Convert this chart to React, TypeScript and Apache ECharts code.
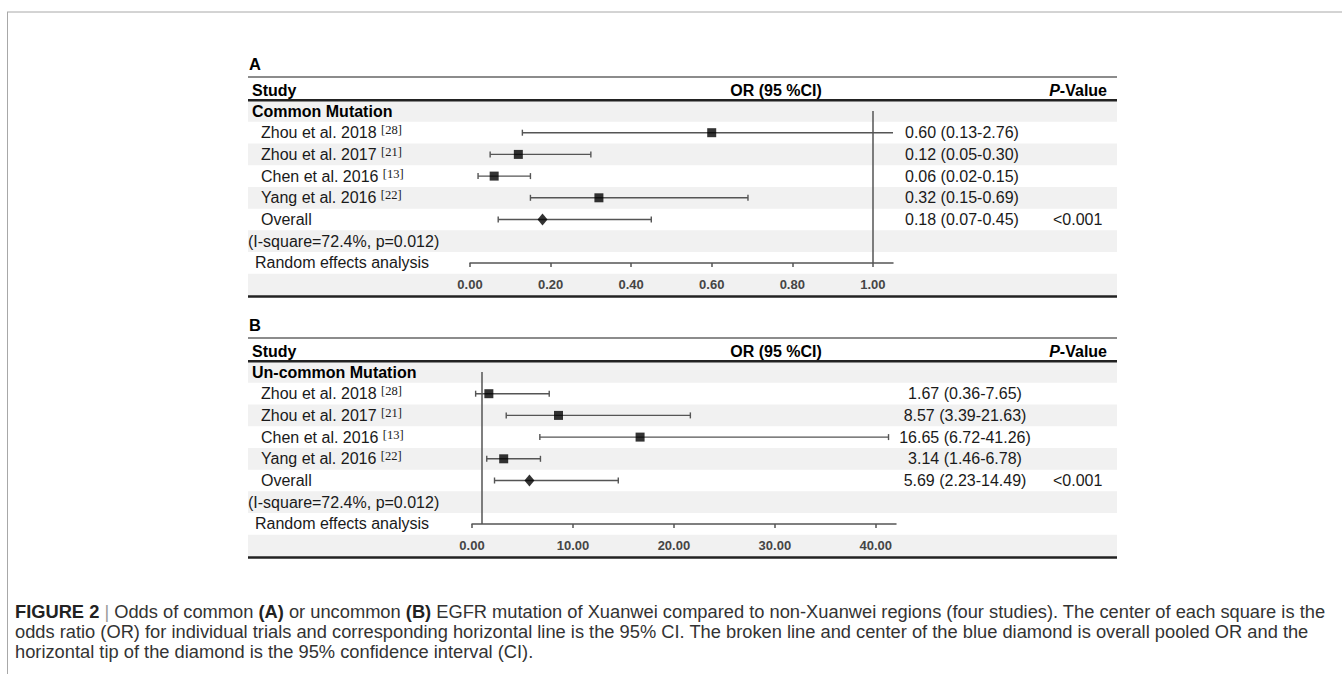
import React, { useEffect, useRef } from 'react';
import * as echarts from 'echarts';

// ---------- DATA ----------
const panelLetters = ['A', 'B'];
const groupTitles = ['Common Mutation', 'Un-common Mutation'];
const studies = ['Zhou et al. 2018', 'Zhou et al. 2017', 'Chen et al. 2016', 'Yang et al. 2016'];
const refs = ['[28]', '[21]', '[13]', '[22]'];

const orA = [0.6, 0.12, 0.06, 0.32];
const loA = [0.13, 0.05, 0.02, 0.15];
const hiA = [2.76, 0.3, 0.15, 0.69];
const overallA = { or: 0.18, lo: 0.07, hi: 0.45 };

const orB = [1.67, 8.57, 16.65, 3.14];
const loB = [0.36, 3.39, 6.72, 1.46];
const hiB = [7.65, 21.63, 41.26, 6.78];
const overallB = { or: 5.69, lo: 2.23, hi: 14.49 };

const pValues = ['<0.001', '<0.001'];
const heterogeneity = ['(I-square=72.4%, p=0.012)', '(I-square=72.4%, p=0.012)'];
const ticksA = [0, 0.2, 0.4, 0.6, 0.8, 1.0];
const ticksB = [0, 10, 20, 30, 40];

const captionLines = [
  '{b|FIGURE 2} {g||} Odds of common {b|(A)} or uncommon {b|(B)} EGFR mutation of Xuanwei compared to non-Xuanwei regions (four studies). The center of each square is the',
  'odds ratio (OR) for individual trials and corresponding horizontal line is the 95% CI. The broken line and center of the blue diamond is overall pooled OR and the',
  'horizontal tip of the diamond is the 95% confidence interval (CI).',
];

// ---------- LAYOUT ----------
const FONT = '"Liberation Sans", Arial, Helvetica, sans-serif';
const SERIF = '"Liberation Serif", "Times New Roman", serif';
const PANEL_OFFSET = [0, 261];
const TABLE_LEFT = 248;
const TABLE_RIGHT = 1117;
const ROW0 = 111;
const PITCH = 21.7;
const LINE_COLOR = '#555';
const CAP_SIZE = 18.3;

const fmtCI = (o: number, l: number, h: number) => `${o.toFixed(2)} (${l.toFixed(2)}-${h.toFixed(2)})`;

function buildPanel(p: number) {
  const off = PANEL_OFFSET[p];
  const or = p === 0 ? orA : orB;
  const lo = p === 0 ? loA : loB;
  const hi = p === 0 ? hiA : hiB;
  const ov = p === 0 ? overallA : overallB;
  const ticks = p === 0 ? ticksA : ticksB;
  const rowY = (i: number) => ROW0 + off + i * PITCH;

  const grid = p === 0
    ? { left: 470, top: ROW0 + off, width: 423, height: PITCH * 7 }
    : { left: 472, top: ROW0 + off, width: 424, height: PITCH * 7 };

  const xAxis = {
    gridIndex: p,
    type: 'value',
    min: 0,
    max: p === 0 ? 1.05 : 42,
    position: 'bottom',
    axisLine: { show: true, onZero: false, lineStyle: { color: LINE_COLOR, width: 1.5 } },
    axisTick: { show: true, inside: false, length: 4, customValues: ticks, lineStyle: { color: LINE_COLOR, width: 1.5 } },
    axisLabel: {
      show: true,
      customValues: ticks,
      margin: 15,
      formatter: (v: number) => v.toFixed(2),
      fontFamily: FONT,
      fontWeight: 'bold',
      fontSize: 13,
      color: '#454545',
    },
    splitLine: { show: false },
  };
  const yAxis = { gridIndex: p, type: 'value', min: 0, max: 7, inverse: true, show: false };

  const ciData = lo.map((l, i) => [l, hi[i], i + 1]).concat([[ov.lo, ov.hi, 5]]);

  const series: any[] = [
    {
      type: 'custom',
      xAxisIndex: p,
      yAxisIndex: p,
      data: ciData,
      renderItem: (params: any, api: any) => {
        const a = api.coord([api.value(0), api.value(2)]);
        const b = api.coord([api.value(1), api.value(2)]);
        const cs = params.coordSys;
        const xmin = cs.x;
        const xmax = cs.x + cs.width;
        const y = a[1];
        const x1 = Math.max(a[0], xmin);
        const x2 = Math.min(b[0], xmax);
        const st = { stroke: LINE_COLOR, lineWidth: 1.4 };
        const children: any[] = [{ type: 'line', shape: { x1, y1: y, x2, y2: y }, style: st }];
        if (a[0] >= xmin) children.push({ type: 'line', shape: { x1: a[0], y1: y - 3, x2: a[0], y2: y + 3 }, style: st });
        if (b[0] <= xmax) children.push({ type: 'line', shape: { x1: b[0], y1: y - 3, x2: b[0], y2: y + 3 }, style: st });
        return { type: 'group', children };
      },
      z: 3,
    },
    {
      type: 'scatter',
      xAxisIndex: p,
      yAxisIndex: p,
      symbol: 'rect',
      symbolSize: 9,
      itemStyle: { color: '#000' },
      data: or.map((v, i) => [v, i + 1]),
      z: 4,
      markLine: {
        silent: true,
        symbol: ['none', 'none'],
        label: { show: false },
        lineStyle: { color: LINE_COLOR, width: 1.5, type: 'solid' },
        data: [{ xAxis: 1 }],
      },
    },
    {
      type: 'scatter',
      xAxisIndex: p,
      yAxisIndex: p,
      symbol: 'diamond',
      symbolSize: [10, 12],
      itemStyle: { color: '#000' },
      data: [[ov.or, 5]],
      z: 4,
    },
  ];

  const g: any[] = [];
  for (let i = 0; i <= 8; i += 2) {
    g.push({
      type: 'rect',
      z: 0,
      shape: { x: TABLE_LEFT, y: rowY(i) - PITCH / 2, width: TABLE_RIGHT - TABLE_LEFT, height: PITCH },
      style: { fill: '#f1f1f1' },
    });
  }
  g.push({ type: 'line', z: 10, shape: { x1: TABLE_LEFT, y1: 77 + off, x2: TABLE_RIGHT, y2: 77 + off }, style: { stroke: '#666', lineWidth: 1.5 } });
  g.push({ type: 'line', z: 10, shape: { x1: TABLE_LEFT, y1: rowY(0) - PITCH / 2, x2: TABLE_RIGHT, y2: rowY(0) - PITCH / 2 }, style: { stroke: '#222', lineWidth: 2.5 } });
  g.push({ type: 'line', z: 10, shape: { x1: TABLE_LEFT, y1: rowY(8) + PITCH / 2 + 1, x2: TABLE_RIGHT, y2: rowY(8) + PITCH / 2 + 1 }, style: { stroke: '#222', lineWidth: 2.5 } });

  const txt = (x: number, y: number, text: string, extra: any = {}) => ({
    type: 'text',
    z: 10,
    x,
    y,
    style: {
      text,
      fill: '#1a1a1a',
      fontFamily: FONT,
      fontSize: 16,
      textAlign: 'left',
      textVerticalAlign: 'middle',
      ...extra,
    },
  });

  g.push(txt(TABLE_LEFT + 1, 64 + off, panelLetters[p], { fontWeight: 'bold', fontSize: 16.5, fill: '#000' }));
  g.push(txt(252, 90 + off, 'Study', { fontWeight: 'bold', fill: '#000' }));
  g.push(txt(776, 90 + off, 'OR (95 %CI)', { fontWeight: 'bold', fill: '#000', textAlign: 'center' }));
  g.push(txt(1107, 90 + off, '{i|P}{n|-Value}', {
    textAlign: 'right',
    rich: {
      i: { fontFamily: FONT, fontSize: 16, fontWeight: 'bold', fontStyle: 'italic', fill: '#000' },
      n: { fontFamily: FONT, fontSize: 16, fontWeight: 'bold', fill: '#000' },
    },
  }));

  g.push(txt(252, rowY(0), groupTitles[p], { fontWeight: 'bold', fill: '#000' }));
  const rich = {
    n: { fontFamily: FONT, fontSize: 16, lineHeight: 18, fill: '#1a1a1a', verticalAlign: 'middle' },
    s: { fontFamily: SERIF, fontSize: 12.5, lineHeight: 13, fill: '#1a1a1a', verticalAlign: 'top' },
  };
  studies.forEach((s, i) => {
    g.push(txt(261, rowY(i + 1), `{n|${s} }{s|${refs[i]}}`, { rich }));
    const t = fmtCI(or[i], lo[i], hi[i]);
    g.push(p === 0 ? txt(905, rowY(i + 1), t) : txt(965, rowY(i + 1), t, { textAlign: 'center' }));
  });
  g.push(txt(261, rowY(5), 'Overall'));
  const tOv = fmtCI(ov.or, ov.lo, ov.hi);
  g.push(p === 0 ? txt(905, rowY(5), tOv) : txt(965, rowY(5), tOv, { textAlign: 'center' }));
  g.push(txt(1053, rowY(5), pValues[p]));
  g.push(txt(248, rowY(6), heterogeneity[p]));
  g.push(txt(255, rowY(7), 'Random effects analysis'));

  return { grid, xAxis, yAxis, series, graphic: g };
}

export default function App() {
  const ref = useRef<HTMLDivElement>(null);
  useEffect(() => {
    if (!ref.current) return;
    const chart = echarts.init(ref.current, undefined, { renderer: 'svg' });
    const pa = buildPanel(0);
    const pb = buildPanel(1);

    const frame: any[] = [
      { type: 'line', z: 10, shape: { x1: 7, y1: 12, x2: 1342, y2: 12 }, style: { stroke: '#a8a8a8', lineWidth: 1 } },
      { type: 'line', z: 10, shape: { x1: 7.5, y1: 12, x2: 7.5, y2: 674 }, style: { stroke: '#a8a8a8', lineWidth: 1 } },
    ];
    const captionYs = [611, 631, 651];
    const caption = captionLines.map((line, i) => ({
      type: 'text',
      z: 10,
      x: 15,
      y: captionYs[i],
      style: {
        text: line,
        fill: '#333',
        fontFamily: FONT,
        fontSize: CAP_SIZE,
        textAlign: 'left',
        textVerticalAlign: 'middle',
        rich: {
          b: { fontFamily: FONT, fontSize: CAP_SIZE, fontWeight: 'bold', fill: '#222' },
          g: { fontFamily: FONT, fontSize: CAP_SIZE, fill: '#999' },
        },
      },
    }));

    chart.setOption({
      animation: false,
      backgroundColor: '#fff',
      grid: [pa.grid, pb.grid],
      xAxis: [pa.xAxis, pb.xAxis],
      yAxis: [pa.yAxis, pb.yAxis],
      series: [...pa.series, ...pb.series],
      graphic: { elements: [...pa.graphic, ...pb.graphic, ...frame, ...caption] },
    });
    return () => chart.dispose();
  }, []);
  return <div ref={ref} style={{ position: 'absolute', left: 0, top: 0, width: 1342, height: 674 }} />;
}
